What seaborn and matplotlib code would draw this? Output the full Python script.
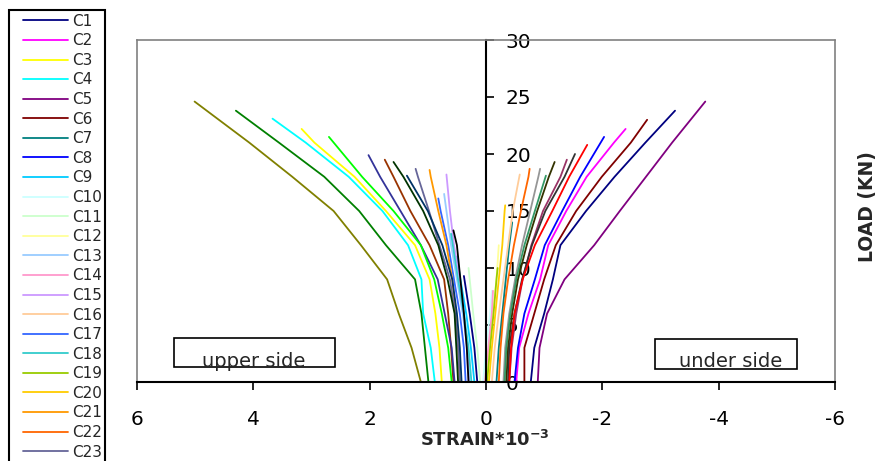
import matplotlib
matplotlib.use('Agg')
import matplotlib.pyplot as plt
from matplotlib.patches import Rectangle
import pandas as pd
import seaborn as sns

# load levels (kN) shared by every gauge; last point of each gauge is its peak
load_steps = [0, 3, 6, 9, 12, 15, 18, 21]

series_names = ['C%d' % i for i in range(1, 39)]

series_colors = [
    '#000080', '#FF00FF', '#FFFF00', '#00FFFF', '#800080', '#800000', '#008080', '#0000FF',
    '#00CCFF', '#CCFFFF', '#CCFFCC', '#FFFF99', '#99CCFF', '#FF99CC', '#CC99FF', '#FFCC99',
    '#3366FF', '#33CCCC', '#99CC00', '#FFCC00', '#FF9900', '#FF6600', '#666699', '#969696',
    '#003366', '#339966', '#003300', '#333300', '#993300', '#993366', '#333399', '#333333',
    '#000000', '#FF0000', '#00FF00', '#008000', '#808000', '#000080',
]

peak_load = [
    23.8, 22.2, 22.2, 23.1, 24.6, 23.0, 14.0, 21.5,
    11.0, 8.0, 10.0, 12.0, 16.5, 8.0, 18.2, 18.2,
    16.1, 13.0, 10.0, 15.5, 18.6, 18.7, 18.7, 18.7,
    18.1, 18.1, 19.3, 19.3, 19.5, 19.5, 19.9, 20.0,
    13.3, 20.8, 21.5, 23.8, 24.6, 9.3,
]

# strain *10^-3 (positive = upper side, negative = under side)
strain = {
    'C1': [-0.77, -0.83, -1.00, -1.15, -1.28, -1.72, -2.21, -2.74, -3.25],
    'C2': [-0.52, -0.57, -0.73, -0.93, -1.07, -1.38, -1.73, -2.20, -2.40],
    'C3': [0.76, 0.80, 0.87, 0.97, 1.22, 1.72, 2.26, 2.95, 3.17],
    'C4': [0.88, 0.95, 1.08, 1.11, 1.34, 1.78, 2.36, 3.10, 3.67],
    'C5': [-0.89, -0.92, -1.05, -1.35, -1.86, -2.30, -2.75, -3.20, -3.77],
    'C6': [-0.66, -0.66, -0.83, -1.00, -1.20, -1.55, -1.99, -2.49, -2.77],
    'C7': [-0.18, -0.22, -0.28, -0.34, -0.40, -0.45],
    'C8': [-0.49, -0.55, -0.66, -0.84, -1.01, -1.31, -1.62, -2.03],
    'C9': [0.20, 0.26, 0.34, 0.44, 0.50],
    'C10': [0.05, 0.00, -0.07, -0.10],
    'C11': [0.10, 0.15, 0.22, 0.28, 0.30],
    'C12': [0.00, -0.06, -0.12, -0.18, -0.22],
    'C13': [0.28, 0.32, 0.40, 0.50, 0.60, 0.68, 0.72],
    'C14': [0.02, -0.04, -0.10, -0.12],
    'C15': [0.30, 0.33, 0.38, 0.45, 0.55, 0.62, 0.68],
    'C16': [-0.10, -0.15, -0.22, -0.30, -0.38, -0.46, -0.58],
    'C17': [0.35, 0.38, 0.45, 0.55, 0.65, 0.78, 0.82],
    'C18': [0.25, 0.30, 0.38, 0.48, 0.57, 0.60],
    'C19': [-0.02, -0.07, -0.13, -0.18, -0.20],
    'C20': [-0.05, -0.10, -0.16, -0.22, -0.28, -0.32, -0.33],
    'C21': [0.45, 0.48, 0.52, 0.58, 0.68, 0.82, 0.95, 0.97],
    'C22': [-0.22, -0.25, -0.30, -0.38, -0.48, -0.60, -0.73, -0.75],
    'C23': [0.45, 0.48, 0.53, 0.62, 0.80, 0.98, 1.17, 1.21],
    'C24': [-0.30, -0.33, -0.40, -0.50, -0.62, -0.76, -0.90, -0.93],
    'C25': [0.42, 0.45, 0.50, 0.58, 0.75, 1.00, 1.36],
    'C26': [-0.32, -0.35, -0.42, -0.52, -0.66, -0.84, -1.03],
    'C27': [0.48, 0.51, 0.54, 0.66, 0.82, 1.08, 1.42, 1.59],
    'C28': [-0.35, -0.38, -0.45, -0.55, -0.70, -0.88, -1.08, -1.18],
    'C29': [0.56, 0.60, 0.65, 0.72, 0.97, 1.30, 1.59, 1.74],
    'C30': [-0.40, -0.44, -0.52, -0.63, -0.78, -0.98, -1.28, -1.39],
    'C31': [0.54, 0.59, 0.71, 0.83, 1.12, 1.47, 1.82, 2.02],
    'C32': [-0.38, -0.40, -0.49, -0.62, -0.79, -1.02, -1.35, -1.53],
    'C33': [0.30, 0.33, 0.38, 0.44, 0.50, 0.56],
    'C34': [-0.40, -0.43, -0.49, -0.63, -0.84, -1.14, -1.43, -1.74],
    'C35': [0.59, 0.65, 0.76, 0.89, 1.12, 1.59, 2.13, 2.70],
    'C36': [0.99, 1.05, 1.11, 1.22, 1.72, 2.18, 2.78, 3.56, 4.30],
    'C37': [1.12, 1.28, 1.50, 1.70, 2.15, 2.62, 3.33, 4.07, 5.01],
    'C38': [0.15, 0.20, 0.28, 0.38],
}

x_ticks = [6, 4, 2, 0, -2, -4, -6]
x_tick_labels = ['6', '4', '2', '0', '-2', '-4', '-6']
y_ticks = [0, 5, 10, 15, 20, 25, 30]

# only the first 23 legend rows fit on the page
legend_shown = 23

# long table for seaborn
rows = []
for name, peak in zip(series_names, peak_load):
    xs = strain[name]
    ys = load_steps[:len(xs) - 1] + [peak]
    for x, y in zip(xs, ys):
        rows.append({'series': name, 'strain': x, 'load': y})
df = pd.DataFrame(rows)

sns.set_style('white')
plt.rcParams['font.family'] = ['DejaVu Sans']

fig = plt.figure(figsize=(8.83, 4.61), dpi=100)
ax = fig.add_axes([137 / 883, 79 / 461, 698 / 883, 342 / 461])

sns.lineplot(data=df, x='strain', y='load', hue='series', hue_order=series_names,
             palette=dict(zip(series_names, series_colors)), sort=False,
             estimator=None, linewidth=1.3, ax=ax)

ax.set_xlim(6, -6)
ax.set_ylim(0, 30)
ax.set_xlabel('')
ax.set_ylabel('')

# frame: grey plot area, black axes through the origin
grey = '#808080'
ax.spines['left'].set_color(grey)
ax.spines['left'].set_linewidth(1.2)
ax.spines['top'].set_color(grey)
ax.spines['top'].set_linewidth(1.2)
ax.spines['bottom'].set_color('black')
ax.spines['bottom'].set_linewidth(1.5)
ax.spines['right'].set_position(('data', 0))
ax.spines['right'].set_color('black')
ax.spines['right'].set_linewidth(1.5)
ax.axvline(-6, color=grey, lw=1.2, clip_on=False)

ax.yaxis.tick_right()
ax.set_yticks(y_ticks)
ax.set_xticks(x_ticks)
ax.set_xticklabels(x_tick_labels)
ax.tick_params(axis='x', direction='out', length=6, width=1.2, pad=14, labelsize=14.5,
               bottom=True, colors='black')
ax.tick_params(axis='y', direction='out', length=6, width=1.2, pad=8, labelsize=14.5,
               right=True, left=False, colors='black')

# side boxes
ax.add_patch(Rectangle((0.053, 0.044), 0.231, 0.085, transform=ax.transAxes,
                       fill=False, ec='black', lw=1.2, clip_on=False))
ax.text(0.167, 0.045, 'upper side', transform=ax.transAxes, ha='center',
        va='baseline', fontsize=14)
ax.add_patch(Rectangle((0.742, 0.038), 0.204, 0.088, transform=ax.transAxes,
                       fill=False, ec='black', lw=1.2, clip_on=False))
ax.text(0.850, 0.045, 'under side', transform=ax.transAxes, ha='center',
        va='baseline', fontsize=14)

fig.text(485 / 883, 1 - 440 / 461, r'STRAIN*10$^{\mathbf{-3}}$', ha='center',
         va='center', fontsize=13, fontweight='bold')
fig.text(868 / 883, 1 - 207 / 461, 'LOAD (KN)', ha='center', va='center',
         rotation=90, fontsize=13.5, fontweight='bold')

handles, labels = ax.get_legend_handles_labels()
ax.get_legend().remove()
fig.legend(handles[:legend_shown], labels[:legend_shown], loc='upper left',
           bbox_to_anchor=(9 / 883, 1.0), fontsize=11, handlelength=2.95,
           handletextpad=0.3, labelspacing=0.30, borderpad=0.9, borderaxespad=0,
           frameon=False)
# legend frame runs off the bottom of the page, as in the original
fig.patches.append(Rectangle((9 / 883, -0.05), 96 / 883, 1.05 - 10 / 461,
                             transform=fig.transFigure, fill=False, ec='black',
                             lw=1.5, clip_on=False))

fig.savefig('out.png', dpi=100)
